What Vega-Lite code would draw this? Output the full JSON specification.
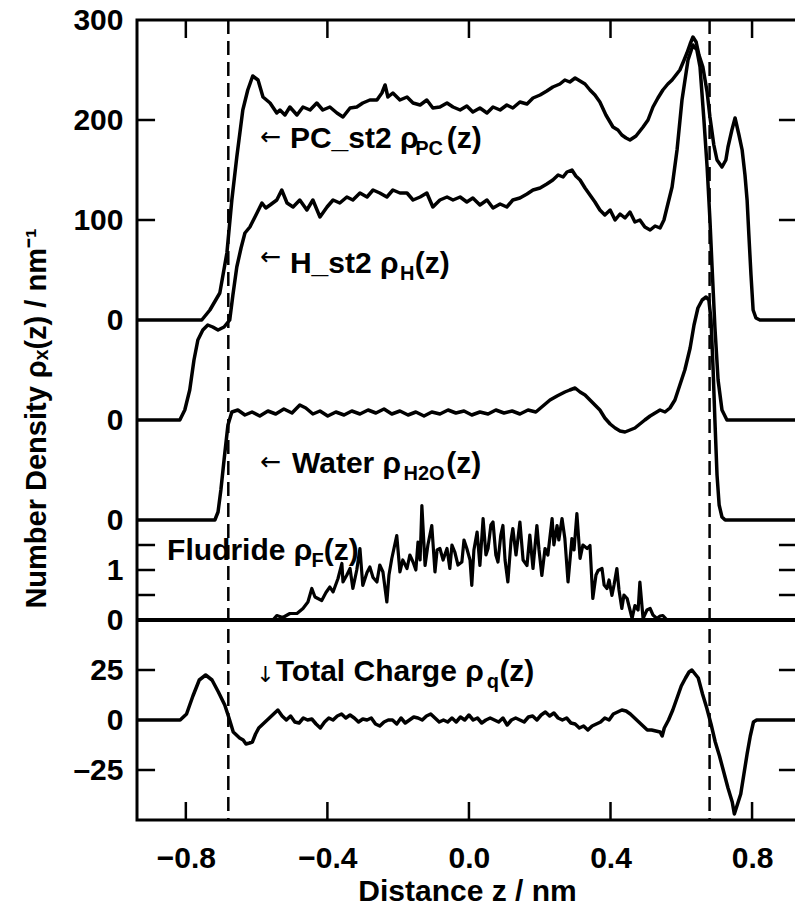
{
  "$schema": "https://vega.github.io/schema/vega-lite/v6.json",
  "width": 660,
  "height": 800,
  "autosize": {"type": "none"},
  "padding": {"left": 137, "top": 20, "right": 0, "bottom": 87},
  "background": "white",
  "config": {
    "view": {"stroke": "black", "strokeWidth": 3},
    "font": "Liberation Sans",
    "axis": {
      "domain": false,
      "grid": false,
      "labelColor": "black",
      "labelFont": "Liberation Sans",
      "labelFontSize": 30,
      "labelFontWeight": "bold",
      "labelOverlap": false,
      "labelFlush": false,
      "titleColor": "black",
      "titleFont": "Liberation Sans",
      "titleFontWeight": "bold",
      "titleFontSize": 30
    }
  },
  "datasets": {
    "pc": [
      {"z": -0.938, "v": 0}, {"z": -0.755, "v": 0}, {"z": -0.732, "v": 10}, {"z": -0.704, "v": 27}, {"z": -0.684, "v": 67}, {"z": -0.670, "v": 120}, {"z": -0.656, "v": 163}, {"z": -0.639, "v": 210}, {"z": -0.625, "v": 230}, {"z": -0.611, "v": 244}, {"z": -0.596, "v": 240}, {"z": -0.582, "v": 223}, {"z": -0.562, "v": 217}, {"z": -0.543, "v": 207}, {"z": -0.534, "v": 210}, {"z": -0.520, "v": 205}, {"z": -0.506, "v": 213}, {"z": -0.486, "v": 205}, {"z": -0.469, "v": 213}, {"z": -0.449, "v": 210}, {"z": -0.430, "v": 217}, {"z": -0.413, "v": 210}, {"z": -0.393, "v": 213}, {"z": -0.373, "v": 207}, {"z": -0.356, "v": 203}, {"z": -0.336, "v": 212}, {"z": -0.317, "v": 213}, {"z": -0.300, "v": 217}, {"z": -0.280, "v": 220}, {"z": -0.260, "v": 220}, {"z": -0.246, "v": 227}, {"z": -0.237, "v": 235}, {"z": -0.229, "v": 223}, {"z": -0.215, "v": 227}, {"z": -0.195, "v": 220}, {"z": -0.175, "v": 223}, {"z": -0.158, "v": 217}, {"z": -0.138, "v": 215}, {"z": -0.119, "v": 220}, {"z": -0.102, "v": 212}, {"z": -0.082, "v": 213}, {"z": -0.062, "v": 217}, {"z": -0.045, "v": 213}, {"z": -0.025, "v": 210}, {"z": -0.006, "v": 214}, {"z": 0.011, "v": 208}, {"z": 0.031, "v": 212}, {"z": 0.051, "v": 207}, {"z": 0.068, "v": 213}, {"z": 0.088, "v": 210}, {"z": 0.107, "v": 215}, {"z": 0.124, "v": 212}, {"z": 0.144, "v": 218}, {"z": 0.164, "v": 216}, {"z": 0.181, "v": 222}, {"z": 0.201, "v": 225}, {"z": 0.220, "v": 229}, {"z": 0.237, "v": 233}, {"z": 0.257, "v": 236}, {"z": 0.271, "v": 240}, {"z": 0.285, "v": 238}, {"z": 0.300, "v": 242}, {"z": 0.314, "v": 239}, {"z": 0.328, "v": 236}, {"z": 0.342, "v": 230}, {"z": 0.356, "v": 225}, {"z": 0.370, "v": 218}, {"z": 0.387, "v": 205}, {"z": 0.407, "v": 193}, {"z": 0.421, "v": 190}, {"z": 0.432, "v": 185}, {"z": 0.444, "v": 182}, {"z": 0.455, "v": 180}, {"z": 0.472, "v": 184}, {"z": 0.492, "v": 193}, {"z": 0.506, "v": 200}, {"z": 0.520, "v": 213}, {"z": 0.534, "v": 222}, {"z": 0.548, "v": 230}, {"z": 0.562, "v": 236}, {"z": 0.574, "v": 240}, {"z": 0.585, "v": 245}, {"z": 0.596, "v": 250}, {"z": 0.608, "v": 260}, {"z": 0.616, "v": 267}, {"z": 0.625, "v": 276}, {"z": 0.633, "v": 283}, {"z": 0.642, "v": 278}, {"z": 0.650, "v": 265}, {"z": 0.661, "v": 253}, {"z": 0.673, "v": 228}, {"z": 0.681, "v": 203}, {"z": 0.692, "v": 175}, {"z": 0.701, "v": 160}, {"z": 0.715, "v": 153}, {"z": 0.726, "v": 160}, {"z": 0.732, "v": 173}, {"z": 0.743, "v": 190}, {"z": 0.752, "v": 202}, {"z": 0.763, "v": 185}, {"z": 0.772, "v": 170}, {"z": 0.780, "v": 145}, {"z": 0.786, "v": 120}, {"z": 0.791, "v": 85}, {"z": 0.797, "v": 45}, {"z": 0.803, "v": 10}, {"z": 0.811, "v": 2}, {"z": 0.822, "v": 0}, {"z": 0.927, "v": 0}
    ],
    "h": [
      {"z": -0.938, "v": 0}, {"z": -0.817, "v": 0}, {"z": -0.803, "v": 10}, {"z": -0.789, "v": 30}, {"z": -0.777, "v": 60}, {"z": -0.766, "v": 80}, {"z": -0.752, "v": 90}, {"z": -0.738, "v": 95}, {"z": -0.724, "v": 93}, {"z": -0.709, "v": 90}, {"z": -0.692, "v": 93}, {"z": -0.676, "v": 100}, {"z": -0.667, "v": 125}, {"z": -0.656, "v": 153}, {"z": -0.644, "v": 172}, {"z": -0.633, "v": 187}, {"z": -0.619, "v": 193}, {"z": -0.599, "v": 207}, {"z": -0.585, "v": 217}, {"z": -0.574, "v": 212}, {"z": -0.562, "v": 215}, {"z": -0.543, "v": 220}, {"z": -0.529, "v": 230}, {"z": -0.514, "v": 217}, {"z": -0.497, "v": 213}, {"z": -0.478, "v": 220}, {"z": -0.458, "v": 210}, {"z": -0.441, "v": 220}, {"z": -0.421, "v": 203}, {"z": -0.401, "v": 213}, {"z": -0.384, "v": 220}, {"z": -0.365, "v": 217}, {"z": -0.345, "v": 223}, {"z": -0.328, "v": 220}, {"z": -0.308, "v": 227}, {"z": -0.288, "v": 223}, {"z": -0.271, "v": 230}, {"z": -0.252, "v": 227}, {"z": -0.232, "v": 223}, {"z": -0.215, "v": 230}, {"z": -0.195, "v": 227}, {"z": -0.175, "v": 227}, {"z": -0.158, "v": 220}, {"z": -0.138, "v": 223}, {"z": -0.119, "v": 227}, {"z": -0.102, "v": 213}, {"z": -0.082, "v": 220}, {"z": -0.062, "v": 223}, {"z": -0.045, "v": 220}, {"z": -0.025, "v": 223}, {"z": -0.006, "v": 218}, {"z": 0.011, "v": 222}, {"z": 0.031, "v": 215}, {"z": 0.051, "v": 220}, {"z": 0.068, "v": 212}, {"z": 0.088, "v": 216}, {"z": 0.107, "v": 213}, {"z": 0.124, "v": 220}, {"z": 0.144, "v": 222}, {"z": 0.164, "v": 226}, {"z": 0.181, "v": 230}, {"z": 0.201, "v": 232}, {"z": 0.220, "v": 236}, {"z": 0.237, "v": 240}, {"z": 0.252, "v": 245}, {"z": 0.266, "v": 243}, {"z": 0.277, "v": 248}, {"z": 0.291, "v": 250}, {"z": 0.302, "v": 244}, {"z": 0.314, "v": 240}, {"z": 0.328, "v": 232}, {"z": 0.342, "v": 225}, {"z": 0.356, "v": 218}, {"z": 0.370, "v": 210}, {"z": 0.384, "v": 205}, {"z": 0.399, "v": 210}, {"z": 0.413, "v": 200}, {"z": 0.427, "v": 206}, {"z": 0.441, "v": 202}, {"z": 0.455, "v": 208}, {"z": 0.469, "v": 198}, {"z": 0.483, "v": 200}, {"z": 0.497, "v": 193}, {"z": 0.512, "v": 190}, {"z": 0.526, "v": 194}, {"z": 0.540, "v": 192}, {"z": 0.551, "v": 200}, {"z": 0.560, "v": 213}, {"z": 0.574, "v": 233}, {"z": 0.588, "v": 270}, {"z": 0.602, "v": 320}, {"z": 0.619, "v": 360}, {"z": 0.633, "v": 375}, {"z": 0.644, "v": 370}, {"z": 0.653, "v": 353}, {"z": 0.664, "v": 300}, {"z": 0.673, "v": 253}, {"z": 0.681, "v": 200}, {"z": 0.687, "v": 153}, {"z": 0.695, "v": 93}, {"z": 0.704, "v": 40}, {"z": 0.715, "v": 10}, {"z": 0.729, "v": 0}, {"z": 0.927, "v": 0}
    ],
    "water": [
      {"z": -0.938, "v": 0}, {"z": -0.718, "v": 0}, {"z": -0.709, "v": 8}, {"z": -0.701, "v": 30}, {"z": -0.692, "v": 60}, {"z": -0.681, "v": 95}, {"z": -0.670, "v": 108}, {"z": -0.653, "v": 110}, {"z": -0.633, "v": 105}, {"z": -0.613, "v": 108}, {"z": -0.591, "v": 104}, {"z": -0.568, "v": 109}, {"z": -0.546, "v": 106}, {"z": -0.523, "v": 111}, {"z": -0.500, "v": 107}, {"z": -0.478, "v": 115}, {"z": -0.461, "v": 112}, {"z": -0.441, "v": 106}, {"z": -0.421, "v": 109}, {"z": -0.399, "v": 104}, {"z": -0.376, "v": 108}, {"z": -0.353, "v": 105}, {"z": -0.331, "v": 109}, {"z": -0.308, "v": 106}, {"z": -0.285, "v": 110}, {"z": -0.263, "v": 107}, {"z": -0.240, "v": 111}, {"z": -0.218, "v": 106}, {"z": -0.195, "v": 109}, {"z": -0.172, "v": 105}, {"z": -0.150, "v": 108}, {"z": -0.127, "v": 104}, {"z": -0.105, "v": 108}, {"z": -0.082, "v": 106}, {"z": -0.059, "v": 110}, {"z": -0.037, "v": 107}, {"z": -0.014, "v": 109}, {"z": 0.008, "v": 105}, {"z": 0.031, "v": 108}, {"z": 0.054, "v": 106}, {"z": 0.076, "v": 110}, {"z": 0.099, "v": 107}, {"z": 0.122, "v": 109}, {"z": 0.144, "v": 106}, {"z": 0.167, "v": 110}, {"z": 0.189, "v": 108}, {"z": 0.209, "v": 114}, {"z": 0.229, "v": 120}, {"z": 0.249, "v": 124}, {"z": 0.271, "v": 128}, {"z": 0.285, "v": 130}, {"z": 0.300, "v": 132}, {"z": 0.314, "v": 128}, {"z": 0.328, "v": 125}, {"z": 0.342, "v": 120}, {"z": 0.356, "v": 115}, {"z": 0.370, "v": 110}, {"z": 0.384, "v": 102}, {"z": 0.399, "v": 96}, {"z": 0.413, "v": 92}, {"z": 0.427, "v": 89}, {"z": 0.441, "v": 88}, {"z": 0.455, "v": 90}, {"z": 0.469, "v": 92}, {"z": 0.483, "v": 96}, {"z": 0.497, "v": 100}, {"z": 0.512, "v": 104}, {"z": 0.526, "v": 107}, {"z": 0.540, "v": 110}, {"z": 0.554, "v": 108}, {"z": 0.568, "v": 112}, {"z": 0.582, "v": 120}, {"z": 0.596, "v": 135}, {"z": 0.610, "v": 150}, {"z": 0.625, "v": 172}, {"z": 0.636, "v": 195}, {"z": 0.647, "v": 212}, {"z": 0.659, "v": 220}, {"z": 0.670, "v": 223}, {"z": 0.678, "v": 220}, {"z": 0.684, "v": 200}, {"z": 0.690, "v": 150}, {"z": 0.695, "v": 100}, {"z": 0.701, "v": 45}, {"z": 0.707, "v": 15}, {"z": 0.715, "v": 3}, {"z": 0.724, "v": 0}, {"z": 0.927, "v": 0}
    ],
    "fluoride": [
      {"z": -0.938, "v": 0}, {"z": -0.554, "v": 0}, {"z": -0.543, "v": 0.09}, {"z": -0.526, "v": 0.05}, {"z": -0.506, "v": 0.13}, {"z": -0.486, "v": 0.13}, {"z": -0.469, "v": 0.23}, {"z": -0.455, "v": 0.36}, {"z": -0.444, "v": 0.63}, {"z": -0.435, "v": 0.46}, {"z": -0.416, "v": 0.39}, {"z": -0.404, "v": 0.55}, {"z": -0.393, "v": 0.66}, {"z": -0.384, "v": 0.56}, {"z": -0.370, "v": 0.83}, {"z": -0.359, "v": 1.13}, {"z": -0.356, "v": 0.76}, {"z": -0.345, "v": 0.9}, {"z": -0.336, "v": 1.03}, {"z": -0.328, "v": 0.63}, {"z": -0.317, "v": 1.0}, {"z": -0.308, "v": 1.43}, {"z": -0.300, "v": 0.69}, {"z": -0.288, "v": 0.95}, {"z": -0.280, "v": 1.06}, {"z": -0.271, "v": 0.85}, {"z": -0.260, "v": 0.76}, {"z": -0.252, "v": 1.1}, {"z": -0.243, "v": 0.96}, {"z": -0.232, "v": 0.36}, {"z": -0.226, "v": 0.9}, {"z": -0.218, "v": 1.23}, {"z": -0.204, "v": 1.69}, {"z": -0.195, "v": 0.96}, {"z": -0.187, "v": 1.2}, {"z": -0.175, "v": 1.03}, {"z": -0.167, "v": 1.3}, {"z": -0.158, "v": 1.16}, {"z": -0.150, "v": 1.0}, {"z": -0.144, "v": 1.56}, {"z": -0.138, "v": 1.2}, {"z": -0.133, "v": 2.29}, {"z": -0.124, "v": 1.09}, {"z": -0.116, "v": 1.5}, {"z": -0.105, "v": 1.89}, {"z": -0.096, "v": 0.96}, {"z": -0.090, "v": 1.4}, {"z": -0.082, "v": 1.43}, {"z": -0.073, "v": 1.2}, {"z": -0.062, "v": 1.43}, {"z": -0.054, "v": 1.03}, {"z": -0.048, "v": 1.5}, {"z": -0.040, "v": 1.36}, {"z": -0.031, "v": 1.1}, {"z": -0.020, "v": 1.16}, {"z": -0.014, "v": 1.6}, {"z": -0.006, "v": 1.43}, {"z": 0.003, "v": 1.2}, {"z": 0.008, "v": 0.69}, {"z": 0.014, "v": 1.4}, {"z": 0.023, "v": 1.76}, {"z": 0.031, "v": 1.09}, {"z": 0.040, "v": 2.03}, {"z": 0.048, "v": 1.3}, {"z": 0.054, "v": 1.43}, {"z": 0.062, "v": 1.9}, {"z": 0.068, "v": 1.96}, {"z": 0.076, "v": 1.3}, {"z": 0.082, "v": 1.16}, {"z": 0.090, "v": 1.7}, {"z": 0.096, "v": 1.89}, {"z": 0.102, "v": 1.2}, {"z": 0.110, "v": 0.76}, {"z": 0.119, "v": 1.6}, {"z": 0.124, "v": 1.83}, {"z": 0.133, "v": 1.3}, {"z": 0.144, "v": 1.96}, {"z": 0.153, "v": 1.2}, {"z": 0.164, "v": 1.09}, {"z": 0.172, "v": 1.7}, {"z": 0.181, "v": 1.03}, {"z": 0.192, "v": 1.89}, {"z": 0.198, "v": 1.4}, {"z": 0.206, "v": 0.89}, {"z": 0.215, "v": 1.43}, {"z": 0.223, "v": 1.3}, {"z": 0.235, "v": 2.03}, {"z": 0.240, "v": 1.5}, {"z": 0.249, "v": 1.89}, {"z": 0.254, "v": 1.6}, {"z": 0.263, "v": 2.03}, {"z": 0.271, "v": 1.63}, {"z": 0.280, "v": 0.76}, {"z": 0.291, "v": 1.63}, {"z": 0.297, "v": 1.4}, {"z": 0.305, "v": 2.13}, {"z": 0.314, "v": 1.23}, {"z": 0.322, "v": 1.5}, {"z": 0.334, "v": 1.43}, {"z": 0.342, "v": 1.49}, {"z": 0.350, "v": 0.43}, {"z": 0.359, "v": 0.9}, {"z": 0.365, "v": 0.99}, {"z": 0.376, "v": 1.03}, {"z": 0.382, "v": 0.7}, {"z": 0.390, "v": 0.63}, {"z": 0.396, "v": 0.8}, {"z": 0.404, "v": 0.49}, {"z": 0.410, "v": 0.7}, {"z": 0.418, "v": 1.03}, {"z": 0.424, "v": 0.6}, {"z": 0.432, "v": 0.23}, {"z": 0.438, "v": 0.5}, {"z": 0.447, "v": 0.43}, {"z": 0.461, "v": 0.03}, {"z": 0.469, "v": 0.29}, {"z": 0.478, "v": 0.2}, {"z": 0.483, "v": 0.76}, {"z": 0.492, "v": 0.03}, {"z": 0.503, "v": 0.2}, {"z": 0.512, "v": 0.23}, {"z": 0.520, "v": 0.1}, {"z": 0.531, "v": 0.03}, {"z": 0.540, "v": 0.08}, {"z": 0.548, "v": 0.09}, {"z": 0.560, "v": 0}, {"z": 0.927, "v": 0}
    ],
    "charge": [
      {"z": -0.938, "v": 0}, {"z": -0.816, "v": 0}, {"z": -0.798, "v": 3}, {"z": -0.780, "v": 12}, {"z": -0.762, "v": 20}, {"z": -0.744, "v": 22.5}, {"z": -0.726, "v": 20}, {"z": -0.708, "v": 14}, {"z": -0.690, "v": 7.5}, {"z": -0.678, "v": 1}, {"z": -0.666, "v": -6}, {"z": -0.648, "v": -9}, {"z": -0.638, "v": -10}, {"z": -0.630, "v": -12}, {"z": -0.620, "v": -11.5}, {"z": -0.612, "v": -11}, {"z": -0.603, "v": -7}, {"z": -0.594, "v": -4}, {"z": -0.576, "v": -1}, {"z": -0.564, "v": 1}, {"z": -0.552, "v": 3}, {"z": -0.540, "v": 5}, {"z": -0.528, "v": 2}, {"z": -0.516, "v": 0}, {"z": -0.504, "v": 2}, {"z": -0.492, "v": -1}, {"z": -0.480, "v": -1.5}, {"z": -0.468, "v": 1}, {"z": -0.456, "v": 0}, {"z": -0.444, "v": 0.5}, {"z": -0.432, "v": -2}, {"z": -0.420, "v": -4}, {"z": -0.408, "v": -1}, {"z": -0.396, "v": 1}, {"z": -0.384, "v": 0}, {"z": -0.372, "v": 2}, {"z": -0.360, "v": 3}, {"z": -0.348, "v": 1}, {"z": -0.336, "v": 2.5}, {"z": -0.324, "v": 1}, {"z": -0.312, "v": -1}, {"z": -0.300, "v": 0.5}, {"z": -0.288, "v": 0}, {"z": -0.276, "v": 1}, {"z": -0.264, "v": -2}, {"z": -0.252, "v": -3}, {"z": -0.240, "v": -1}, {"z": -0.228, "v": 0}, {"z": -0.216, "v": 0}, {"z": -0.204, "v": -2}, {"z": -0.192, "v": 1}, {"z": -0.180, "v": -1.5}, {"z": -0.168, "v": 0}, {"z": -0.156, "v": 1.5}, {"z": -0.144, "v": 1}, {"z": -0.132, "v": 0}, {"z": -0.120, "v": 2}, {"z": -0.108, "v": 3}, {"z": -0.096, "v": 1}, {"z": -0.084, "v": -1}, {"z": -0.072, "v": 0}, {"z": -0.060, "v": -1}, {"z": -0.048, "v": 1}, {"z": -0.036, "v": -1}, {"z": -0.024, "v": 1.5}, {"z": -0.012, "v": 0}, {"z": 0.000, "v": 2.5}, {"z": 0.012, "v": 0}, {"z": 0.024, "v": 1}, {"z": 0.036, "v": -1.5}, {"z": 0.048, "v": 0}, {"z": 0.060, "v": 1}, {"z": 0.072, "v": 0}, {"z": 0.084, "v": -1}, {"z": 0.096, "v": 1}, {"z": 0.108, "v": -2.5}, {"z": 0.120, "v": 0}, {"z": 0.132, "v": 1}, {"z": 0.144, "v": 0}, {"z": 0.156, "v": -1}, {"z": 0.168, "v": 1.5}, {"z": 0.180, "v": 2}, {"z": 0.192, "v": 0}, {"z": 0.204, "v": 2.5}, {"z": 0.216, "v": 4}, {"z": 0.228, "v": 2}, {"z": 0.240, "v": 3.5}, {"z": 0.252, "v": 1}, {"z": 0.264, "v": 0}, {"z": 0.276, "v": 1}, {"z": 0.288, "v": -1.5}, {"z": 0.300, "v": -2}, {"z": 0.312, "v": -4}, {"z": 0.324, "v": -3}, {"z": 0.336, "v": -5}, {"z": 0.348, "v": -3}, {"z": 0.360, "v": -2}, {"z": 0.372, "v": -1}, {"z": 0.384, "v": 1}, {"z": 0.396, "v": 0}, {"z": 0.408, "v": 3}, {"z": 0.420, "v": 4}, {"z": 0.432, "v": 5}, {"z": 0.444, "v": 4.5}, {"z": 0.456, "v": 3}, {"z": 0.468, "v": 1}, {"z": 0.480, "v": -1}, {"z": 0.492, "v": -3}, {"z": 0.504, "v": -5}, {"z": 0.516, "v": -5}, {"z": 0.528, "v": -5.5}, {"z": 0.540, "v": -6}, {"z": 0.546, "v": -8}, {"z": 0.552, "v": -4}, {"z": 0.564, "v": 0}, {"z": 0.576, "v": 5}, {"z": 0.588, "v": 11}, {"z": 0.600, "v": 17}, {"z": 0.612, "v": 21}, {"z": 0.622, "v": 24}, {"z": 0.630, "v": 25}, {"z": 0.639, "v": 23}, {"z": 0.648, "v": 21}, {"z": 0.660, "v": 13}, {"z": 0.672, "v": 6}, {"z": 0.684, "v": -2}, {"z": 0.696, "v": -11}, {"z": 0.708, "v": -18}, {"z": 0.720, "v": -26}, {"z": 0.732, "v": -34}, {"z": 0.744, "v": -41}, {"z": 0.750, "v": -47}, {"z": 0.759, "v": -42}, {"z": 0.768, "v": -37}, {"z": 0.777, "v": -27}, {"z": 0.786, "v": -17}, {"z": 0.795, "v": -8}, {"z": 0.804, "v": -1}, {"z": 0.813, "v": 0}, {"z": 0.927, "v": 0}
    ],
    "bounds": [{"z": -0.68}, {"z": 0.68}],
    "yticks": [{"t": 200}, {"t": 100}, {"t": -225}, {"t": -250}, {"t": -275}, {"t": -350}, {"t": -450}],
    "xticks": [{"t": -0.8}, {"t": -0.4}, {"t": 0}, {"t": 0.4}, {"t": 0.8}]
  },
  "layer": [
    {
      "data": {"name": "pc"},
      "mark": {"type": "line", "color": "black", "strokeWidth": 3.5, "strokeJoin": "round"},
      "encoding": {
        "x": {
          "field": "z", "type": "quantitative",
          "scale": {"domain": [-0.938, 0.927], "nice": false, "zero": false},
          "axis": {
            "orient": "bottom",
            "values": [-0.8, -0.4, 0, 0.4, 0.8],
            "format": ".1f",
            "ticks": false,
            "labelPadding": 23,
            "title": "Distance z / nm",
            "titleFontSize": 30,
            "titleBaseline": "alphabetic",
            "titleY": 80
          }
        },
        "y": {
          "field": "v", "type": "quantitative",
          "scale": {"domain": [-500, 300], "nice": false, "zero": false},
          "axis": {
            "orient": "left",
            "values": [300, 200, 100, 0, -100, -200, -250, -300, -350, -400, -450],
            "labelExpr": "datum.value == -100 || datum.value == -200 || datum.value == -300 || datum.value == -400 ? '0' : datum.value == -250 ? '1' : datum.value == -350 ? '25' : datum.value == -450 ? '–25' : datum.label",
            "ticks": false,
            "labelPadding": 14,
            "title": "Number Density ρₓ(z) / nm⁻¹",
            "titleFontSize": 29,
            "titleAngle": 270,
            "titleAlign": "center",
            "titleBaseline": "alphabetic",
            "titleX": -92,
            "titleY": 398
          }
        }
      }
    },
    {
      "data": {"name": "h"},
      "mark": {"type": "line", "color": "black", "strokeWidth": 3.5, "strokeJoin": "round"},
      "encoding": {
        "x": {"field": "z", "type": "quantitative", "scale": {"domain": [-0.938, 0.927], "nice": false, "zero": false}, "axis": null},
        "y": {"field": "v", "type": "quantitative", "scale": {"domain": [-400, 400], "nice": false, "zero": false}, "axis": null}
      }
    },
    {
      "data": {"name": "water"},
      "mark": {"type": "line", "color": "black", "strokeWidth": 3.5, "strokeJoin": "round"},
      "encoding": {
        "x": {"field": "z", "type": "quantitative", "scale": {"domain": [-0.938, 0.927], "nice": false, "zero": false}, "axis": null},
        "y": {"field": "v", "type": "quantitative", "scale": {"domain": [-300, 500], "nice": false, "zero": false}, "axis": null}
      }
    },
    {
      "data": {"name": "fluoride"},
      "layer": [
        {
          "mark": {"type": "rule", "color": "black", "strokeWidth": 3},
          "encoding": {
            "y": {"datum": 0, "type": "quantitative", "scale": {"domain": [-4, 12], "nice": false, "zero": false}, "axis": null}
          }
        },
        {
          "mark": {"type": "line", "color": "black", "strokeWidth": 3.2, "strokeJoin": "round"},
          "encoding": {
            "x": {"field": "z", "type": "quantitative", "scale": {"domain": [-0.938, 0.927], "nice": false, "zero": false}, "axis": null},
            "y": {"field": "v", "type": "quantitative", "scale": {"domain": [-4, 12], "nice": false, "zero": false}, "axis": null}
          }
        }
      ]
    },
    {
      "data": {"name": "charge"},
      "mark": {"type": "line", "color": "black", "strokeWidth": 3.5, "strokeJoin": "round"},
      "encoding": {
        "x": {"field": "z", "type": "quantitative", "scale": {"domain": [-0.938, 0.927], "nice": false, "zero": false}, "axis": null},
        "y": {"field": "v", "type": "quantitative", "scale": {"domain": [-50, 350], "nice": false, "zero": false}, "axis": null}
      }
    },
    {
      "data": {"name": "bounds"},
      "mark": {"type": "rule", "color": "black", "strokeWidth": 2.5, "strokeDash": [14, 7]},
      "encoding": {
        "x": {"field": "z", "type": "quantitative", "scale": {"domain": [-0.938, 0.927], "nice": false, "zero": false}, "axis": null}
      }
    },
    {
      "data": {"name": "yticks"},
      "layer": [
        {
          "mark": {"type": "rule", "color": "black", "strokeWidth": 2.5},
          "encoding": {
            "x": {"datum": -0.938, "type": "quantitative", "axis": null},
            "x2": {"datum": -0.887},
            "y": {"field": "t", "type": "quantitative", "scale": {"domain": [-500, 300], "nice": false, "zero": false}, "axis": null}
          }
        },
        {
          "mark": {"type": "rule", "color": "black", "strokeWidth": 2.5},
          "encoding": {
            "x": {"datum": 0.876, "type": "quantitative", "axis": null},
            "x2": {"datum": 0.927},
            "y": {"field": "t", "type": "quantitative", "scale": {"domain": [-500, 300], "nice": false, "zero": false}, "axis": null}
          }
        }
      ]
    },
    {
      "data": {"name": "xticks"},
      "layer": [
        {
          "mark": {"type": "rule", "color": "black", "strokeWidth": 2.5},
          "encoding": {
            "x": {"field": "t", "type": "quantitative", "axis": null},
            "y": {"datum": 300, "type": "quantitative", "scale": {"domain": [-500, 300], "nice": false, "zero": false}, "axis": null},
            "y2": {"datum": 282}
          }
        },
        {
          "mark": {"type": "rule", "color": "black", "strokeWidth": 2.5},
          "encoding": {
            "x": {"field": "t", "type": "quantitative", "axis": null},
            "y": {"datum": -500, "type": "quantitative", "scale": {"domain": [-500, 300], "nice": false, "zero": false}, "axis": null},
            "y2": {"datum": -482}
          }
        }
      ]
    },
    {
      "data": {"values": [{}]},
      "layer": [
        {"mark": {"type": "text", "text": "←", "font": "DejaVu Sans", "align": "left", "baseline": "alphabetic", "fontSize": 25, "color": "black"},
         "encoding": {"x": {"datum": -0.590, "type": "quantitative", "axis": null}, "y": {"datum": 175, "type": "quantitative", "scale": {"domain": [-500, 300], "nice": false, "zero": false}, "axis": null}}},
        {"mark": {"type": "text", "text": "PC_st2 ρ", "align": "left", "baseline": "alphabetic", "fontSize": 30, "fontWeight": "bold", "color": "black"},
         "encoding": {"x": {"datum": -0.506, "type": "quantitative", "axis": null}, "y": {"datum": 172, "type": "quantitative", "scale": {"domain": [-500, 300], "nice": false, "zero": false}, "axis": null}}},
        {"mark": {"type": "text", "text": "PC", "align": "left", "baseline": "alphabetic", "fontSize": 20, "fontWeight": "bold", "color": "black"},
         "encoding": {"x": {"datum": -0.152, "type": "quantitative", "axis": null}, "y": {"datum": 165, "type": "quantitative", "scale": {"domain": [-500, 300], "nice": false, "zero": false}, "axis": null}}},
        {"mark": {"type": "text", "text": "(z)", "align": "left", "baseline": "alphabetic", "fontSize": 30, "fontWeight": "bold", "color": "black"},
         "encoding": {"x": {"datum": -0.063, "type": "quantitative", "axis": null}, "y": {"datum": 172, "type": "quantitative", "scale": {"domain": [-500, 300], "nice": false, "zero": false}, "axis": null}}},

        {"mark": {"type": "text", "text": "←", "font": "DejaVu Sans", "align": "left", "baseline": "alphabetic", "fontSize": 25, "color": "black"},
         "encoding": {"x": {"datum": -0.590, "type": "quantitative", "axis": null}, "y": {"datum": 55, "type": "quantitative", "scale": {"domain": [-500, 300], "nice": false, "zero": false}, "axis": null}}},
        {"mark": {"type": "text", "text": "H_st2 ρ", "align": "left", "baseline": "alphabetic", "fontSize": 30, "fontWeight": "bold", "color": "black"},
         "encoding": {"x": {"datum": -0.506, "type": "quantitative", "axis": null}, "y": {"datum": 47, "type": "quantitative", "scale": {"domain": [-500, 300], "nice": false, "zero": false}, "axis": null}}},
        {"mark": {"type": "text", "text": "H", "align": "left", "baseline": "alphabetic", "fontSize": 20, "fontWeight": "bold", "color": "black"},
         "encoding": {"x": {"datum": -0.195, "type": "quantitative", "axis": null}, "y": {"datum": 40, "type": "quantitative", "scale": {"domain": [-500, 300], "nice": false, "zero": false}, "axis": null}}},
        {"mark": {"type": "text", "text": "(z)", "align": "left", "baseline": "alphabetic", "fontSize": 30, "fontWeight": "bold", "color": "black"},
         "encoding": {"x": {"datum": -0.153, "type": "quantitative", "axis": null}, "y": {"datum": 47, "type": "quantitative", "scale": {"domain": [-500, 300], "nice": false, "zero": false}, "axis": null}}},

        {"mark": {"type": "text", "text": "←", "font": "DejaVu Sans", "align": "left", "baseline": "alphabetic", "fontSize": 25, "color": "black"},
         "encoding": {"x": {"datum": -0.590, "type": "quantitative", "axis": null}, "y": {"datum": -150, "type": "quantitative", "scale": {"domain": [-500, 300], "nice": false, "zero": false}, "axis": null}}},
        {"mark": {"type": "text", "text": "Water ρ", "align": "left", "baseline": "alphabetic", "fontSize": 30, "fontWeight": "bold", "color": "black"},
         "encoding": {"x": {"datum": -0.500, "type": "quantitative", "axis": null}, "y": {"datum": -153, "type": "quantitative", "scale": {"domain": [-500, 300], "nice": false, "zero": false}, "axis": null}}},
        {"mark": {"type": "text", "text": "H2O", "align": "left", "baseline": "alphabetic", "fontSize": 20, "fontWeight": "bold", "color": "black"},
         "encoding": {"x": {"datum": -0.185, "type": "quantitative", "axis": null}, "y": {"datum": -160, "type": "quantitative", "scale": {"domain": [-500, 300], "nice": false, "zero": false}, "axis": null}}},
        {"mark": {"type": "text", "text": "(z)", "align": "left", "baseline": "alphabetic", "fontSize": 30, "fontWeight": "bold", "color": "black"},
         "encoding": {"x": {"datum": -0.064, "type": "quantitative", "axis": null}, "y": {"datum": -153, "type": "quantitative", "scale": {"domain": [-500, 300], "nice": false, "zero": false}, "axis": null}}},

        {"mark": {"type": "text", "text": "Fludride ρ", "align": "left", "baseline": "alphabetic", "fontSize": 30, "fontWeight": "bold", "color": "black"},
         "encoding": {"x": {"datum": -0.853, "type": "quantitative", "axis": null}, "y": {"datum": -240, "type": "quantitative", "scale": {"domain": [-500, 300], "nice": false, "zero": false}, "axis": null}}},
        {"mark": {"type": "text", "text": "F", "align": "left", "baseline": "alphabetic", "fontSize": 20, "fontWeight": "bold", "color": "black"},
         "encoding": {"x": {"datum": -0.445, "type": "quantitative", "axis": null}, "y": {"datum": -247, "type": "quantitative", "scale": {"domain": [-500, 300], "nice": false, "zero": false}, "axis": null}}},
        {"mark": {"type": "text", "text": "(z)", "align": "left", "baseline": "alphabetic", "fontSize": 30, "fontWeight": "bold", "color": "black"},
         "encoding": {"x": {"datum": -0.410, "type": "quantitative", "axis": null}, "y": {"datum": -240, "type": "quantitative", "scale": {"domain": [-500, 300], "nice": false, "zero": false}, "axis": null}}},

        {"mark": {"type": "text", "text": "↓", "font": "DejaVu Sans", "align": "left", "baseline": "alphabetic", "fontSize": 22, "color": "black"},
         "encoding": {"x": {"datum": -0.601, "type": "quantitative", "axis": null}, "y": {"datum": -362, "type": "quantitative", "scale": {"domain": [-500, 300], "nice": false, "zero": false}, "axis": null}}},
        {"mark": {"type": "text", "text": "Total Charge ρ", "align": "left", "baseline": "alphabetic", "fontSize": 30, "fontWeight": "bold", "color": "black"},
         "encoding": {"x": {"datum": -0.546, "type": "quantitative", "axis": null}, "y": {"datum": -361, "type": "quantitative", "scale": {"domain": [-500, 300], "nice": false, "zero": false}, "axis": null}}},
        {"mark": {"type": "text", "text": "q", "align": "left", "baseline": "alphabetic", "fontSize": 20, "fontWeight": "bold", "color": "black"},
         "encoding": {"x": {"datum": 0.050, "type": "quantitative", "axis": null}, "y": {"datum": -368, "type": "quantitative", "scale": {"domain": [-500, 300], "nice": false, "zero": false}, "axis": null}}},
        {"mark": {"type": "text", "text": "(z)", "align": "left", "baseline": "alphabetic", "fontSize": 30, "fontWeight": "bold", "color": "black"},
         "encoding": {"x": {"datum": 0.086, "type": "quantitative", "axis": null}, "y": {"datum": -361, "type": "quantitative", "scale": {"domain": [-500, 300], "nice": false, "zero": false}, "axis": null}}}
      ]
    }
  ],
  "resolve": {"scale": {"y": "independent"}, "axis": {"x": "independent", "y": "independent"}}
}
